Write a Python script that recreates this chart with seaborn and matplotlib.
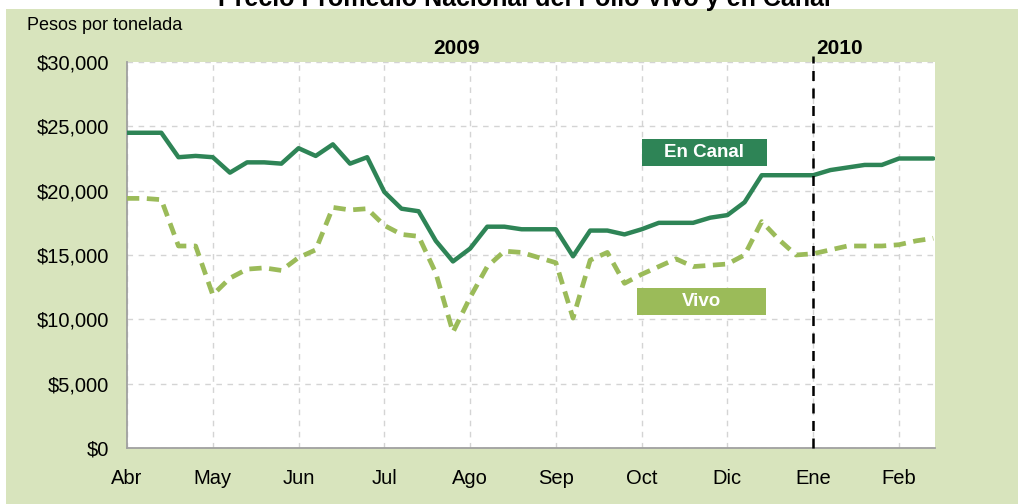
import pandas as pd
import matplotlib.pyplot as plt
import matplotlib.patches as mpatches
import seaborn as sns
import numpy as np

# precios semanales (pesos por tonelada), abril 2009 - febrero 2010
canal = [24500, 24500, 24500, 22600, 22700, 22600, 21400, 22200, 22200, 22100,
         23300, 22700, 23600, 22100, 22600, 19900, 18600, 18400, 16100, 14500,
         15500, 17200, 17200, 17000, 17000, 17000, 14900, 16900, 16900, 16600,
         17000, 17500, 17500, 17500, 17900, 18100, 19100, 21200, 21200, 21200,
         21200, 21600, 21800, 22000, 22000, 22500, 22500, 22500]
vivo = [19400, 19400, 19300, 15700, 15700, 11900, 13200, 13900, 14000, 13800,
        14800, 15400, 18700, 18500, 18600, 17300, 16600, 16450, 13600, 9000,
        11700, 14100, 15300, 15200, 14800, 14400, 10100, 14600, 15200, 12800,
        13500, 14100, 14700, 14100, 14200, 14300, 15000, 17600, 16200, 15000,
        15100, 15400, 15700, 15700, 15700, 15800, 16100, 16300]
meses = ['Abr', 'May', 'Jun', 'Jul', 'Ago', 'Sep', 'Oct', 'Dic', 'Ene', 'Feb']
semanas_por_mes = 5
semana_ene = 40

semana = np.arange(len(canal))
df = pd.DataFrame({'semana': np.concatenate([semana, semana]),
                   'precio': canal + vivo,
                   'tipo': ['En Canal'] * len(canal) + ['Vivo'] * len(vivo)})

verde_osc = '#2e8456'
verde_cla = '#9bbb59'
fondo = '#d8e4bd'

sns.set_style('white')
plt.rcParams['font.family'] = ['Liberation Sans', 'DejaVu Sans']
plt.rcParams['text.color'] = 'black'
plt.rcParams['xtick.color'] = 'black'
plt.rcParams['ytick.color'] = 'black'

fig = plt.figure(figsize=(10.18, 5.04), dpi=100, facecolor='white')
fig.patches.append(mpatches.Rectangle((6 / 1018, 0), 1, 1 - 9 / 504,
                                      transform=fig.transFigure,
                                      facecolor=fondo, edgecolor='none', zorder=-10))
ax = fig.add_axes([127 / 1018, 1 - 448 / 504, 808 / 1018, 386 / 504])
ax.set_facecolor('white')

sns.lineplot(data=df[df['tipo'] == 'En Canal'], x='semana', y='precio',
             color=verde_osc, linewidth=3.2, ax=ax, zorder=4)
sns.lineplot(data=df[df['tipo'] == 'Vivo'], x='semana', y='precio',
             color=verde_cla, linewidth=3.4, ax=ax, zorder=3)
ax.lines[1].set_dashes((2.6, 1.6))

ax.set_xlim(0, 47.1)
ax.set_ylim(0, 30000)
ax.set_xticks(np.arange(len(meses)) * semanas_por_mes)
ax.set_xticklabels(meses, fontsize=14.5)
ax.set_yticks(np.arange(0, 30001, 5000))
ax.set_yticklabels(['${:,.0f}'.format(v) for v in ax.get_yticks()], fontsize=14.5)
ax.set_xlabel('')
ax.set_ylabel('')
ax.tick_params(axis='both', length=5, color='#a0a0a0', labelcolor='black',
               pad=8, direction='out')
ax.tick_params(axis='x', pad=10)
ax.grid(True, color='#d4d4d4', linestyle=(0, (4, 4)), linewidth=1)
for s in ['top', 'right']:
    ax.spines[s].set_visible(False)
for s in ['left', 'bottom']:
    ax.spines[s].set_color('#a0a0a0')
    ax.spines[s].set_linewidth(1.3)

# linea divisoria de año
ax.axvline(semana_ene, ymin=0, ymax=1.016, color='black', linewidth=1.8,
           linestyle=(0, (4, 3)), clip_on=False, zorder=5)
ax.text(19.2, 1.036, '2009', transform=ax.get_xaxis_transform(), ha='center',
        va='center', fontsize=15, fontweight='bold', color='black')
ax.text(semana_ene + 0.15, 1.036, '2010', transform=ax.get_xaxis_transform(),
        ha='left', va='center', fontsize=15, fontweight='bold', color='black')

# etiquetas de serie
ax.add_patch(mpatches.Rectangle((0.637, 0.7306), 0.1547, 0.07, transform=ax.transAxes,
                                facecolor=verde_osc, edgecolor='none', zorder=6))
ax.text(0.637 + 0.1547 / 2, 0.7306 + 0.035, 'En Canal', transform=ax.transAxes,
        ha='center', va='center', color='white', fontsize=13.5, fontweight='bold', zorder=7)
ax.add_patch(mpatches.Rectangle((0.631, 0.3446), 0.16, 0.07, transform=ax.transAxes,
                                facecolor=verde_cla, edgecolor='none', zorder=6))
ax.text(0.631 + 0.08, 0.3446 + 0.035, 'Vivo', transform=ax.transAxes,
        ha='center', va='center', color='white', fontsize=13.5, fontweight='bold', zorder=7)

fig.text(27 / 1018, 1 - 25 / 504, 'Pesos por tonelada', ha='left', va='center',
         fontsize=13, color='black')
# el titulo queda cortado en el borde superior, igual que en la imagen original
fig.text(524 / 1018, 1 - 6 / 504, 'Precio Promedio Nacional del Pollo Vivo y en Canal',
         ha='center', va='baseline', fontsize=18, fontweight='bold', color='black')

fig.savefig('out.png', dpi=100, facecolor=fig.get_facecolor())
